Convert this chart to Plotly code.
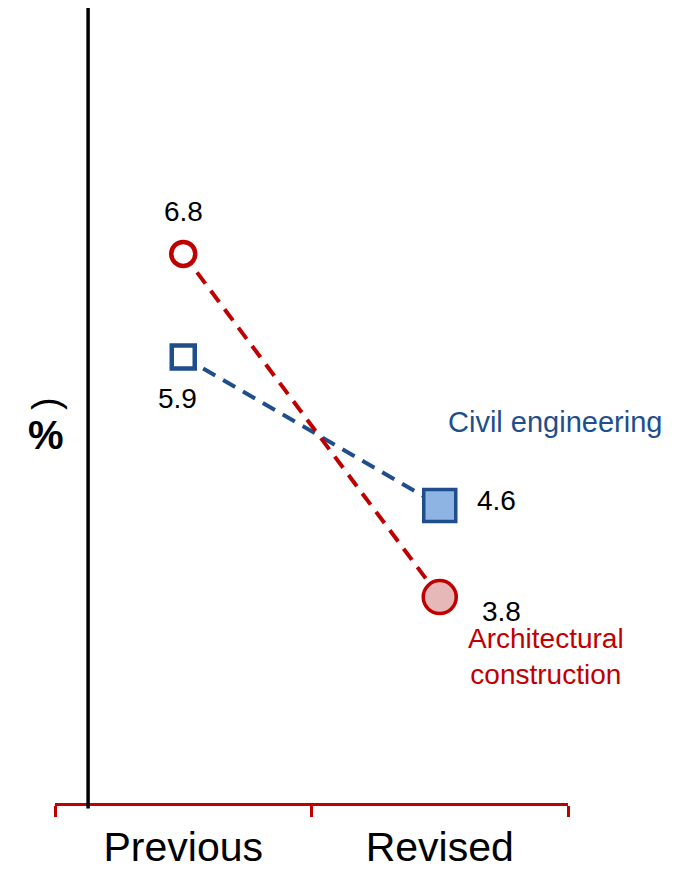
import plotly.graph_objects as go

# Categories and series values
periods = ["Previous", "Revised"]
arch_values = [6.8, 3.8]
civil_values = [5.9, 4.6]
arch_name = "Architectural<br>construction"
civil_name = "Civil engineering"

RED = "#C00000"
RED_FILL = "#E6B9B8"
BLUE = "#1F4E8C"
BLUE_FILL = "#8EB4E3"
FONT = "Liberation Sans, Arial, sans-serif"

fig = go.Figure()

fig.add_trace(go.Scatter(
    x=periods, y=civil_values, mode="lines+markers",
    line=dict(color=BLUE, width=4, dash="14px,9px"),
    marker=dict(symbol="square", size=[23, 32], color=["white", BLUE_FILL],
                opacity=1, line=dict(color=BLUE, width=[4.5, 3.5])),
    showlegend=False, hoverinfo="skip",
))
fig.add_trace(go.Scatter(
    x=periods, y=arch_values, mode="lines+markers",
    line=dict(color=RED, width=4, dash="14px,9px"),
    marker=dict(symbol="circle", size=[24, 33], color=["white", RED_FILL],
                opacity=1, line=dict(color=RED, width=[4.5, 3.5])),
    showlegend=False, hoverinfo="skip",
))

# Value labels next to each marker
label_offsets = {
    "arch": [(0, 42), (62, -14)],
    "civil": [(-6, -42), (57, 5)],
}
for vals, key in ((arch_values, "arch"), (civil_values, "civil")):
    for cat, v, (dx, dy) in zip(periods, vals, label_offsets[key]):
        fig.add_annotation(x=cat, y=v, text=f"{v:.1f}", showarrow=False,
                           xshift=dx, yshift=dy,
                           font=dict(family=FONT, size=28, color="black"))

# Series names
fig.add_annotation(x=periods[1], y=civil_values[1], text=civil_name,
                   showarrow=False, xanchor="left", xshift=6, yshift=84,
                   font=dict(family=FONT, size=29, color=BLUE))
fig.add_annotation(x=periods[1], y=arch_values[1], text=arch_name,
                   showarrow=False, xshift=106, yshift=-59, align="center",
                   font=dict(family=FONT, size=28, color=RED))

# Axis unit label
fig.add_annotation(xref="paper", yref="paper", x=-0.018, y=0.503, text=")",
                   textangle=-90, showarrow=False, xanchor="center",
                   font=dict(family=FONT, size=38, color="black"))
fig.add_annotation(xref="paper", yref="paper", x=-0.018, y=0.463, text="<b>%</b>",
                   showarrow=False, xanchor="center",
                   font=dict(family=FONT, size=40, color="black"))

# Vertical value axis line
fig.add_shape(type="line", xref="x", yref="paper", x0=-0.371, x1=-0.371,
              y0=-0.007, y1=1, line=dict(color="black", width=3.5))

fig.update_layout(
    width=682, height=869,
    margin=dict(l=55, r=114, t=8, b=66),
    paper_bgcolor="white", plot_bgcolor="white",
    xaxis=dict(type="category", categoryorder="array", categoryarray=periods,
               range=[-0.5, 1.5], showgrid=False, zeroline=False,
               automargin=False,
               showline=True, linecolor=RED, linewidth=3,
               ticks="outside", tickson="boundaries", ticklen=11,
               tickcolor=RED, tickwidth=3, ticklabelstandoff=6,
               tickfont=dict(family=FONT, size=41, color="black")),
    yaxis=dict(range=[2, 8.95], visible=False, showgrid=False, zeroline=False,
               automargin=False),
)

fig.write_html("out.html")
